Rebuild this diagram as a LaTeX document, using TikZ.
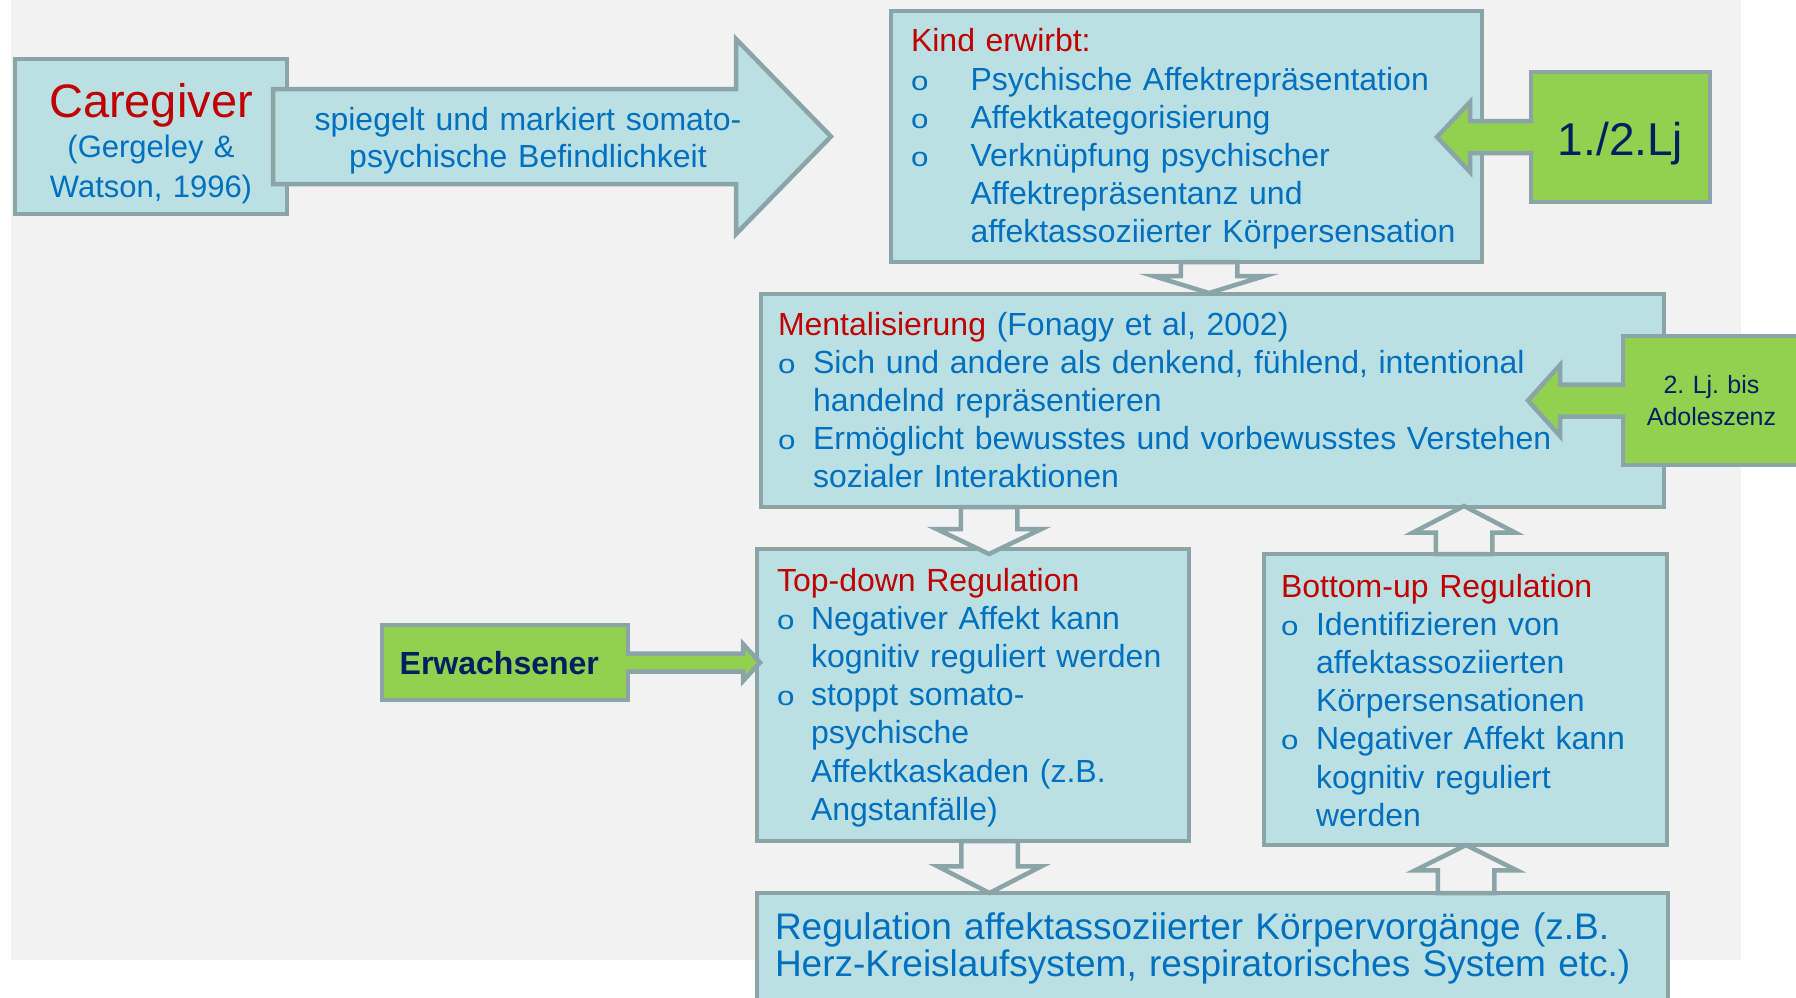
\documentclass[tikz,border=0pt]{standalone}
\usepackage{fontspec}
\setmainfont{Liberation Sans}
\usetikzlibrary{positioning,calc,shapes.arrows}
\frenchspacing

\definecolor{pageGray}{HTML}{F2F2F2}
\definecolor{boxCyan}{HTML}{BBE0E3}
\definecolor{edgeGray}{HTML}{8AA4A7}
\definecolor{txtBlue}{HTML}{0070C0}
\definecolor{txtRed}{HTML}{C00000}
\definecolor{tagGreen}{HTML}{92D050}
\definecolor{txtNavy}{HTML}{002060}

% Aufzaehlungszeichen mit Einzug
\newcommand{\bul}[1]{\makebox[#1][l]{\fontsize{28}{28}\selectfont\scalebox{1.12}[0.95]{o}}}

\begin{document}
\begin{tikzpicture}[
    x=1pt, y=1pt,
    font=\fontsize{32}{38.2}\selectfont,
    box/.style={
        draw=edgeGray,
        fill=boxCyan,
        line width=4.5pt,
        text=txtBlue,
        align=left,
        anchor=north west,
        inner ysep=0pt,
        outer sep=0pt
    },
    tag/.style={
        draw=edgeGray,
        fill=tagGreen,
        line width=4.5pt,
        text=txtNavy,
        align=center,
        anchor=north west,
        inner xsep=0pt,
        inner ysep=0pt,
        outer sep=0pt
    },
    hollow/.style={
        single arrow,
        draw=edgeGray,
        fill=pageGray,
        line width=4.5pt,
        inner xsep=0pt,
        inner ysep=26pt,
        outer sep=0pt,
        single arrow head indent=0pt,
        anchor=tail
    },
    callout/.style={draw=edgeGray, fill=tagGreen, line width=4.5pt},
    bigarr/.style={draw=edgeGray, fill=boxCyan, line width=4.5pt}
]
    %% Hintergrund
    \useasboundingbox (0,0) rectangle (1796,-998);
    \clip (0,0) rectangle (1796,-998);
    \fill[white] (0,0) rectangle (1796,-998);
    \fill[pageGray] (11,0) rectangle (1741,-960);

    %% Caregiver
    \node[box, align=center, inner xsep=6pt, text width=260pt, text height=58pt, text depth=97pt,
          font=\fontsize{31}{40}\selectfont] (care) at (15,-59)
        {{\fontsize{47}{40}\selectfont\textcolor{txtRed}{Caregiver}}\\(Gergeley \&\\Watson, 1996)};

    %% Kind erwirbt
    \node[box, inner xsep=20pt, text width=551pt, text height=41pt, text depth=210pt] (kind) at (891,-11) {%
        \textcolor{txtRed}{Kind erwirbt:}\\
        \bul{59.5pt}Psychische Affektrepräsentation\\
        \bul{59.5pt}Affektkategorisierung\\
        \bul{59.5pt}Verknüpfung psychischer\\
        \hspace*{59.5pt}Affektrepräsentanz und\\
        \hspace*{59.5pt}affektassoziierter Körpersensation};

    %% Mentalisierung
    \node[box, inner xsep=17pt, text width=869pt, text height=41pt, text depth=172pt] (ment) at (761,-294) {%
        \textcolor{txtRed}{Mentalisierung} (Fonagy et al, 2002)\\
        \bul{35pt}Sich und andere als denkend, fühlend, intentional\\
        \hspace*{35pt}handelnd repräsentieren\\
        \bul{35pt}Ermöglicht bewusstes und vorbewusstes Verstehen\\
        \hspace*{35pt}sozialer Interaktionen};

    %% Top-down
    \node[box, inner xsep=20pt, text width=392pt, text height=42pt, text depth=250pt] (td) at (757,-549) {%
        \textcolor{txtRed}{Top-down Regulation}\\
        \bul{34pt}Negativer Affekt kann\\
        \hspace*{34pt}kognitiv reguliert werden\\
        \bul{34pt}stoppt somato-\\
        \hspace*{34pt}psychische\\
        \hspace*{34pt}Affektkaskaden (z.B.\\
        \hspace*{34pt}Angstanfälle)};

    %% Bottom-up
    \node[box, inner xsep=17pt, text width=369pt, text height=43pt, text depth=248pt] (bu) at (1264,-554) {%
        \textcolor{txtRed}{Bottom-up Regulation}\\
        \bul{35pt}Identifizieren von\\
        \hspace*{35pt}affektassoziierten\\
        \hspace*{35pt}Körpersensationen\\
        \bul{35pt}Negativer Affekt kann\\
        \hspace*{35pt}kognitiv reguliert\\
        \hspace*{35pt}werden};

    %% Koerpervorgaenge
    \node[box, inner xsep=18pt, text width=875pt, text height=46pt, text depth=74pt,
          font=\fontsize{37}{37}\selectfont] (reg) at (757,-893)
        {Regulation affektassoziierter Körpervorgänge (z.B.\\Herz-Kreislaufsystem, respiratorisches System etc.)};

    %% Altersangaben
    \node[tag, text width=179pt, text height=83pt, text depth=47pt,
          font=\fontsize{46}{46}\selectfont] (lj1) at (1531,-72) {1./2.Lj};
    \node[tag, text width=177pt, text height=57pt, text depth=72pt,
          font=\fontsize{25}{32}\selectfont] (lj2) at (1623,-336) {2. Lj. bis\\Adoleszenz};
    \node[tag, align=left, inner xsep=17.7pt, text width=210.6pt, text height=49pt, text depth=26pt,
          font=\bfseries\fontsize{32}{38}\selectfont] (adult) at (382,-625) {Erwachsener};

    %% Pfeile
    \path[bigarr] ([shift={(-14,47.5)}]care.east) -- ++(463,0) -- ++(0,50) -- ++(95,-97.5)
        -- ++(-95,-97.5) -- ++(0,50) -- ++(-463,0) -- cycle;
    \node[text=txtBlue, align=center, text width=440pt, inner sep=0pt, anchor=base,
          font=\fontsize{32}{37}\selectfont] (mirror) at (528,-130)
        {spiegelt und markiert somato-\\psychische Befindlichkeit};

    \path[callout] ([shift={(2.25,16)}]lj1.west) -- ++(-63.25,0) -- ++(0,19) -- ++(-33,-35)
        -- ++(33,-35) -- ++(0,19) -- ++(63.25,0);
    \path[callout] ([shift={(2.25,16)}]lj2.west) -- ++(-65.25,0) -- ++(0,19.5) -- ++(-32,-35.5)
        -- ++(32,-35.5) -- ++(0,19.5) -- ++(65.25,0);
    \path[callout] ([shift={(-2.25,9)}]adult.east) -- ++(117.25,0) -- ++(0,9.5) -- ++(17,-18.5)
        -- ++(-17,-18.5) -- ++(0,9.5) -- ++(-117.25,0);

    \node[hollow, rotate=-90, minimum height=31pt, single arrow head extend=27pt,
          single arrow tip angle=146] (down1) at ([xshift=22.5pt]kind.south) {};
    \node[hollow, rotate=-90, minimum height=47pt, single arrow head extend=24pt,
          single arrow tip angle=129] (down2) at ([xshift=-223.5pt]ment.south) {};
    \node[hollow, rotate=90, minimum height=48pt, single arrow head extend=23pt,
          single arrow tip angle=125] (up1) at ([xshift=-1.5pt]bu.north) {};
    \node[hollow, rotate=-90, minimum height=52pt, single arrow head extend=23.5pt,
          single arrow tip angle=125.5] (down3) at ([xshift=16.5pt]td.south) {};
    \node[hollow, rotate=90, minimum height=48pt, single arrow head extend=22.5pt,
          single arrow tip angle=127] (up2) at ([xshift=253.5pt]reg.north) {};
\end{tikzpicture}
\end{document}
